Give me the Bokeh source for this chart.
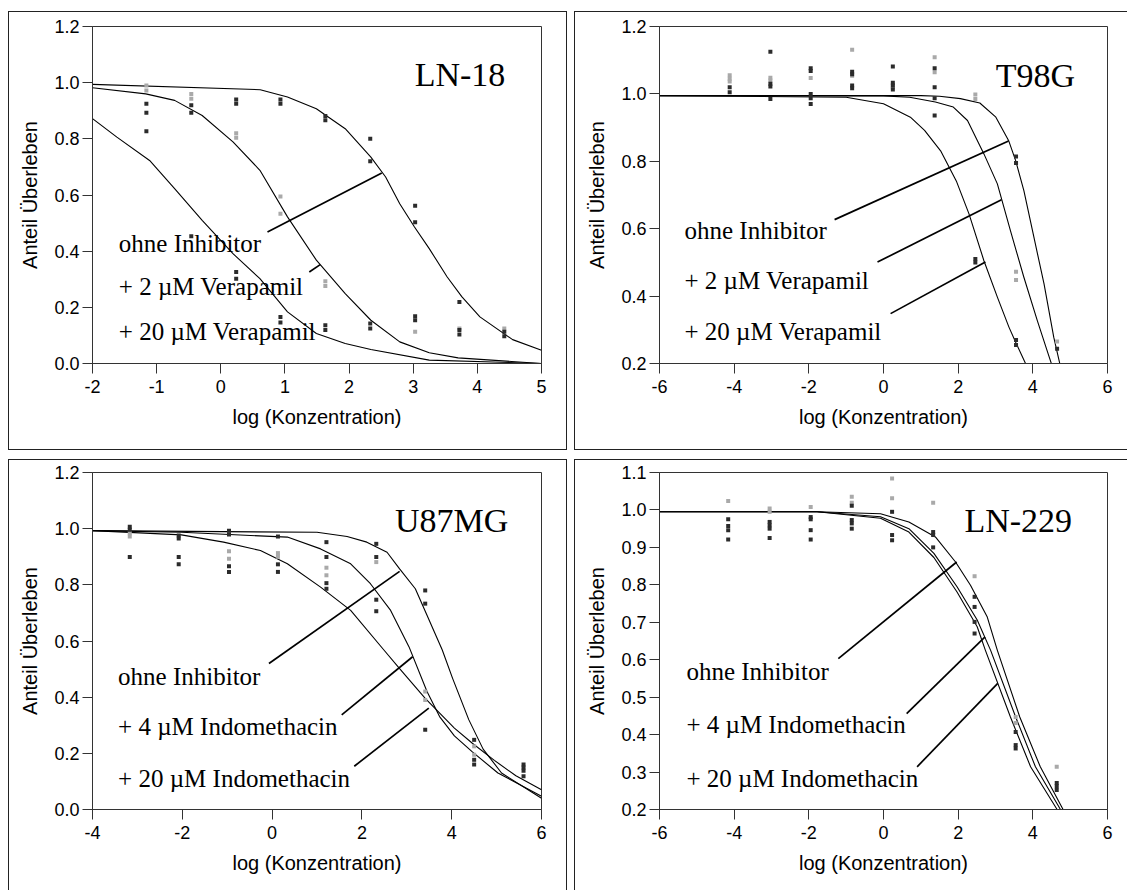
from bokeh.plotting import figure
from bokeh.models import Range1d, FixedTicker, Spacer
from bokeh.layouts import row, column
from bokeh.embed import file_html
from bokeh.resources import INLINE
from bokeh.core.properties import value

SANS = "Liberation Sans"
SERIF = "Liberation Serif"
DARK = "#2b2b2b"
GRAY = "#a9a9a9"

# ---------------- LN-18 (Verapamil) ----------------
ln18_dark_x = [-1.16, -1.16, -1.16, -0.46, -0.46, -0.46, 0.24, 0.24, 0.24, 0.24,
               0.93, 0.93, 0.93, 0.93, 1.63, 1.63, 1.63, 1.63, 2.33, 2.33, 2.33, 2.33,
               3.03, 3.03, 3.03, 3.03, 3.72, 3.72, 3.72, 4.42, 4.42]
ln18_dark_y = [0.925, 0.893, 0.827, 0.92, 0.893, 0.453, 0.94, 0.925, 0.326, 0.302,
               0.94, 0.925, 0.166, 0.146, 0.881, 0.866, 0.136, 0.119, 0.80, 0.72, 0.142, 0.125,
               0.562, 0.503, 0.168, 0.154, 0.219, 0.119, 0.103, 0.113, 0.097]
ln18_gray_x = [-1.16, -1.16, -0.46, -0.46, 0.24, 0.24, 0.93, 0.93, 1.63, 1.63, 3.03, 3.72, 4.42]
ln18_gray_y = [0.99, 0.972, 0.96, 0.943, 0.82, 0.804, 0.595, 0.533, 0.293, 0.276, 0.113, 0.125, 0.125]
ln18_ohne_x = [-2, 0.615, 1.04, 1.49, 1.94, 2.34, 2.57, 2.79, 3.02, 3.25, 3.53, 3.76, 4.04, 4.55, 5.0]
ln18_ohne_y = [0.994, 0.975, 0.949, 0.907, 0.836, 0.735, 0.664, 0.569, 0.486, 0.409, 0.308, 0.237, 0.166, 0.085, 0.047]
ln18_v2_x = [-2, -1.17, -0.72, -0.29, 0.19, 0.61, 1.04, 1.49, 1.94, 2.34, 2.79, 3.25, 3.7, 5.0]
ln18_v2_y = [0.982, 0.96, 0.937, 0.883, 0.789, 0.688, 0.522, 0.368, 0.249, 0.154, 0.077, 0.038, 0.02, 0.0]
ln18_v20_x = [-2, -1.62, -1.11, -0.72, -0.29, 0.19, 0.61, 1.04, 1.49, 1.94, 2.34, 3.25, 5.0]
ln18_v20_y = [0.872, 0.806, 0.723, 0.623, 0.51, 0.391, 0.302, 0.184, 0.107, 0.071, 0.05, 0.012, 0.0]

# ---------------- T98G (Verapamil) ----------------
t98_dark_x = [-4.12, -4.12, -3.03, -3.03, -3.03, -3.03, -1.95, -1.95, -1.95, -1.95, -1.95,
              -0.84, -0.84, -0.84, -0.84, 0.25, 0.25, 0.25, 0.25, 1.37, 1.37, 1.37, 1.37,
              2.46, 2.46, 3.55, 3.55, 3.55, 3.55, 4.65]
t98_dark_y = [1.02, 1.005, 1.125, 1.03, 1.022, 0.985, 1.076, 1.068, 1.0, 0.987, 0.97,
              1.066, 1.058, 1.025, 1.017, 1.081, 1.033, 1.025, 1.013, 1.076, 1.02, 0.987, 0.936,
              0.51, 0.5, 0.814, 0.795, 0.27, 0.255, 0.244]
t98_gray_x = [-4.12, -4.12, -4.12, -3.03, -3.03, -1.95, -0.84, -0.84, 0.25, 1.37, 1.37,
              2.46, 2.46, 3.55, 3.55, 4.65]
t98_gray_y = [1.055, 1.045, 1.037, 1.048, 1.04, 1.047, 1.131, 1.054, 1.02, 1.109, 1.064,
              0.998, 0.985, 0.472, 0.448, 0.265]
t98_ohne_x = [-6, 1.0, 1.5, 2.06, 2.58, 3.01, 3.35, 3.54, 3.76, 4.03, 4.3, 4.56, 4.74]
t98_ohne_y = [0.995, 0.995, 0.993, 0.986, 0.973, 0.931, 0.862, 0.802, 0.713, 0.574, 0.436, 0.278, 0.191]
t98_v2_x = [-6, 0.0, 0.7, 1.39, 1.87, 2.25, 2.69, 3.05, 3.40, 3.76, 4.12, 4.38, 4.63]
t98_v2_y = [0.995, 0.994, 0.99, 0.976, 0.961, 0.921, 0.822, 0.733, 0.594, 0.456, 0.327, 0.239, 0.155]
t98_v20_x = [-6, -1.0, 0.0, 0.72, 1.1, 1.53, 1.96, 2.29, 2.69, 3.05, 3.36, 3.54, 3.83]
t98_v20_y = [0.995, 0.99, 0.971, 0.931, 0.892, 0.831, 0.739, 0.644, 0.505, 0.397, 0.308, 0.263, 0.194]

# ---------------- U87MG (Indomethacin) ----------------
u87_dark_x = [-3.17, -3.17, -3.17, -2.08, -2.08, -2.08, -2.08, -0.96, -0.96, -0.96, -0.96,
              0.13, 0.13, 0.13, 1.21, 1.21, 1.21, 1.21, 2.32, 2.32, 2.32, 2.32,
              3.41, 3.41, 3.41, 4.5, 4.5, 4.5, 5.6, 5.6, 5.6, 5.6]
u87_dark_y = [1.007, 0.996, 0.899, 0.976, 0.965, 0.899, 0.873, 0.993, 0.979, 0.866, 0.846,
              0.972, 0.873, 0.846, 0.952, 0.899, 0.806, 0.786, 0.946, 0.899, 0.747, 0.706,
              0.78, 0.733, 0.284, 0.248, 0.177, 0.16, 0.16, 0.15, 0.138, 0.118]
u87_gray_x = [-3.17, -3.17, -0.96, -0.96, 0.13, 0.13, 1.21, 1.21, 2.32, 3.41, 3.41, 4.5, 4.5]
u87_gray_y = [0.984, 0.972, 0.92, 0.893, 0.913, 0.9, 0.861, 0.834, 0.881, 0.42, 0.39, 0.225, 0.195]
u87_ohne_x = [-4, 1.0, 1.67, 2.11, 2.56, 2.84, 3.19, 3.45, 3.79, 4.02, 4.38, 4.7, 5.11, 6.0]
u87_ohne_y = [0.993, 0.987, 0.972, 0.952, 0.916, 0.857, 0.786, 0.692, 0.568, 0.467, 0.32, 0.215, 0.13, 0.04]
u87_i4_x = [-4, -2.02, 0.34, 1.08, 1.75, 2.19, 2.64, 3.05, 3.45, 3.73, 4.06, 4.46, 5.03, 6.0]
u87_i4_y = [0.993, 0.987, 0.97, 0.928, 0.875, 0.804, 0.709, 0.579, 0.42, 0.331, 0.262, 0.205, 0.13, 0.047]
u87_i20_x = [-4, -2.02, -1.08, -0.26, 0.34, 1.08, 1.75, 2.49, 2.84, 3.41, 4.06, 4.46, 4.95, 5.43, 6.0]
u87_i20_y = [0.993, 0.978, 0.952, 0.922, 0.875, 0.792, 0.709, 0.568, 0.502, 0.396, 0.29, 0.236, 0.175, 0.12, 0.07]

# ---------------- LN-229 (Indomethacin) ----------------
ln229_dark_x = [-4.16, -4.16, -4.16, -4.16, -3.05, -3.05, -3.05, -3.05, -1.95, -1.95, -1.95, -1.95,
                -0.85, -0.85, -0.85, -0.85, 0.23, 0.23, 0.23, 1.33, 1.33, 1.33,
                2.44, 2.44, 2.44, 2.44, 3.54, 3.54, 3.54, 4.64, 4.64, 4.64]
ln229_dark_y = [0.975, 0.957, 0.946, 0.921, 0.968, 0.959, 0.95, 0.925, 0.981, 0.975, 0.946, 0.921,
                1.011, 0.973, 0.964, 0.95, 0.995, 0.933, 0.919, 0.941, 0.933, 0.9,
                0.768, 0.741, 0.701, 0.67, 0.407, 0.372, 0.363, 0.271, 0.262, 0.252]
ln229_gray_x = [-4.16, -3.05, -3.05, -1.95, -0.85, -0.85, 0.23, 0.23, 1.33, 2.44, 3.54, 3.54, 4.64]
ln229_gray_y = [1.024, 1.004, 0.995, 1.008, 1.035, 1.019, 1.084, 1.031, 1.019, 0.823, 0.447, 0.431, 0.314]
ln229_ohne_x = [-6, -1.78, -0.08, 0.68, 1.39, 1.93, 2.33, 2.78, 3.05, 3.65, 4.2, 4.81]
ln229_ohne_y = [0.995, 0.995, 0.99, 0.968, 0.928, 0.861, 0.799, 0.714, 0.625, 0.447, 0.314, 0.2]
ln229_i4_x = [-6, -1.78, -0.08, 0.68, 1.35, 1.97, 2.51, 2.87, 3.54, 4.07, 4.74]
ln229_i4_y = [0.995, 0.995, 0.982, 0.95, 0.884, 0.795, 0.706, 0.625, 0.447, 0.314, 0.2]
ln229_i20_x = [-6, -1.78, -0.08, 0.68, 1.35, 1.97, 2.51, 2.73, 3.40, 3.94, 4.65, 4.84]
ln229_i20_y = [0.995, 0.995, 0.978, 0.941, 0.873, 0.781, 0.688, 0.625, 0.447, 0.314, 0.2, 0.16]

verapamil_labels = ["ohne Inhibitor", "+ 2 µM Verapamil", "+ 20 µM Verapamil"]
indo_labels = ["ohne Inhibitor", "+ 4 µM Indomethacin", "+ 20 µM Indomethacin"]
x_label = "log (Konzentration)"
y_label = "Anteil Überleben"


def tick_text(v, decimals):
    return ("%." + str(decimals) + "f") % v


def panel(cfg):
    p = figure(width=cfg["w"], height=cfg["h"], output_backend="svg", toolbar_location=None,
               x_range=Range1d(*cfg["xr"]), y_range=Range1d(*cfg["yr"]),
               min_border_left=cfg["b"][0], min_border_right=cfg["b"][1],
               min_border_top=cfg["b"][2], min_border_bottom=cfg["b"][3],
               styles={"outline": "1px solid #222222", "outline-offset": "0px"})
    p.xgrid.visible = False
    p.ygrid.visible = False
    p.outline_line_color = "#333333"
    p.outline_line_width = 1
    p.background_fill_color = "white"
    p.border_fill_color = "white"
    p.xaxis.ticker = FixedTicker(ticks=cfg["xt"])
    p.yaxis.ticker = FixedTicker(ticks=cfg["yt"])
    p.xaxis.major_label_overrides = {t: tick_text(t, 0) for t in cfg["xt"]}
    p.yaxis.major_label_overrides = {t: tick_text(t, 1) for t in cfg["yt"]}
    p.xaxis.axis_label = x_label
    p.yaxis.axis_label = y_label
    for ax in (p.xaxis[0], p.yaxis[0]):
        ax.major_tick_out = 10
        ax.major_tick_in = 0
        ax.minor_tick_out = 0
        ax.minor_tick_in = 0
        ax.axis_line_color = "#333333"
        ax.major_tick_line_color = "#333333"
        ax.major_label_text_font = SANS
        ax.major_label_text_font_size = "18px"
        ax.major_label_text_color = "black"
        ax.axis_label_text_font = SANS
        ax.axis_label_text_font_size = "20px"
        ax.axis_label_text_font_style = "normal"
        ax.axis_label_text_color = "black"
    p.xaxis.major_label_standoff = 6
    p.yaxis.major_label_standoff = 3
    p.xaxis.axis_label_standoff = 10
    p.yaxis.axis_label_standoff = 10

    for cx, cy in cfg["curves"]:
        p.line(cx, cy, line_color="black", line_width=1.1)
    p.scatter(cfg["gray"][0], cfg["gray"][1], marker="square", size=4, fill_color=GRAY, line_color=None)
    p.scatter(cfg["dark"][0], cfg["dark"][1], marker="square", size=4, fill_color=DARK, line_color=None)
    lx0, ly0, lx1, ly1 = zip(*cfg["leaders"])
    p.segment(x0=list(lx0), y0=list(ly0), x1=list(lx1), y1=list(ly1), line_color="black", line_width=1.7)
    p.text(x=[cfg["lab_x"]] * 3, y=cfg["lab_y"], text=cfg["labels"], text_font=value(SERIF),
           text_font_size="25px", text_baseline="middle", text_align="left", text_color="black")
    p.text(x=[cfg["title_xy"][0]], y=[cfg["title_xy"][1]], text=[cfg["title"]], text_font=value(SERIF),
           text_font_size="34px", text_baseline="middle", text_align="center", text_color="black")
    return p


# canvas of each panel = inside of its outlined box
tl = panel(dict(w=557, h=437, b=(83, 25, 14, 86), xr=(-2, 5), yr=(0, 1.2),
                xt=[-2, -1, 0, 1, 2, 3, 4, 5], yt=[0, 0.2, 0.4, 0.6, 0.8, 1.0, 1.2],
                curves=[(ln18_ohne_x, ln18_ohne_y), (ln18_v2_x, ln18_v2_y), (ln18_v20_x, ln18_v20_y)],
                gray=(ln18_gray_x, ln18_gray_y), dark=(ln18_dark_x, ln18_dark_y),
                leaders=[(0.728, 0.468, 2.51, 0.678), (1.38, 0.326, 1.55, 0.352)],
                lab_x=-1.59, lab_y=[0.427, 0.273, 0.113], labels=verapamil_labels,
                title="LN-18", title_xy=(3.73, 1.03)))

tr = panel(dict(w=552, h=437, b=(84, 20, 14, 86), xr=(-6, 6), yr=(0.2, 1.2),
                xt=[-6, -4, -2, 0, 2, 4, 6], yt=[0.2, 0.4, 0.6, 0.8, 1.0, 1.2],
                curves=[(t98_ohne_x, t98_ohne_y), (t98_v2_x, t98_v2_y), (t98_v20_x, t98_v20_y)],
                gray=(t98_gray_x, t98_gray_y), dark=(t98_dark_x, t98_dark_y),
                leaders=[(-1.31, 0.627, 3.35, 0.86), (-0.16, 0.501, 3.16, 0.686), (0.19, 0.348, 2.73, 0.501)],
                lab_x=-5.33, lab_y=[0.595, 0.447, 0.294], labels=verapamil_labels,
                title="T98G", title_xy=(4.07, 1.055)))

bl = panel(dict(w=557, h=430, b=(83, 25, 12, 80), xr=(-4, 6), yr=(0, 1.2),
                xt=[-4, -2, 0, 2, 4, 6], yt=[0, 0.2, 0.4, 0.6, 0.8, 1.0, 1.2],
                curves=[(u87_ohne_x, u87_ohne_y), (u87_i4_x, u87_i4_y), (u87_i20_x, u87_i20_y)],
                gray=(u87_gray_x, u87_gray_y), dark=(u87_dark_x, u87_dark_y),
                leaders=[(-0.07, 0.52, 2.84, 0.848), (1.55, 0.337, 3.13, 0.544), (1.83, 0.154, 3.49, 0.361)],
                lab_x=-3.43, lab_y=[0.473, 0.296, 0.112], labels=indo_labels,
                title="U87MG", title_xy=(4.0, 1.029)))

br = panel(dict(w=552, h=430, b=(84, 20, 12, 81), xr=(-6, 6), yr=(0.2, 1.1),
                xt=[-6, -4, -2, 0, 2, 4, 6], yt=[0.2, 0.3, 0.4, 0.5, 0.6, 0.7, 0.8, 0.9, 1.0, 1.1],
                curves=[(ln229_ohne_x, ln229_ohne_y), (ln229_i4_x, ln229_i4_y), (ln229_i20_x, ln229_i20_y)],
                gray=(ln229_gray_x, ln229_gray_y), dark=(ln229_dark_x, ln229_dark_y),
                leaders=[(-1.21, 0.603, 1.96, 0.861), (0.62, 0.456, 2.72, 0.661), (0.9, 0.314, 3.06, 0.537)],
                lab_x=-5.28, lab_y=[0.568, 0.427, 0.283], labels=indo_labels,
                title="LN-229", title_xy=(3.61, 0.973)))

layout = column(
    Spacer(width=1127, height=12),
    row(Spacer(width=9, height=437), tl, Spacer(width=9, height=437), tr),
    Spacer(width=1127, height=11),
    row(Spacer(width=9, height=430), bl, Spacer(width=9, height=430), br),
)
open("out.html", "w").write(file_html(layout, INLINE))
